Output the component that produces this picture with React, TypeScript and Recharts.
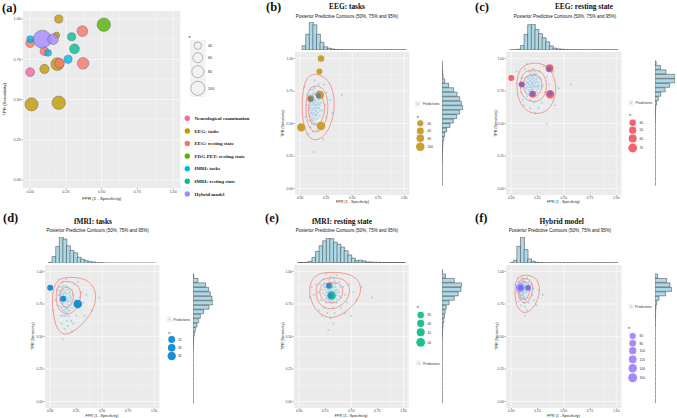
import React from 'react';
import { ScatterChart, Scatter, XAxis, YAxis, ZAxis, CartesianGrid, BarChart, Bar } from 'recharts';

type Pt = { x: number; y: number; n?: number };

// study estimates: FPR (1 - specificity), TPR (sensitivity), sample size
const neuroExam: Pt[] = [{ x: 0.0, y: 0.67, n: 40 }];
const eegTasks: Pt[] = [
  { x: 0.2, y: 1.0, n: 35 },
  { x: 0.185, y: 0.9, n: 20 },
  { x: 0.1, y: 0.69, n: 45 },
  { x: 0.19, y: 0.72, n: 85 },
  { x: 0.01, y: 0.47, n: 90 },
  { x: 0.2, y: 0.48, n: 95 },
];
const eegRest: Pt[] = [
  { x: 0.365, y: 0.925, n: 60 },
  { x: 0.0, y: 0.85, n: 40 },
  { x: 0.1, y: 0.8, n: 40 },
  { x: 0.205, y: 0.725, n: 50 },
  { x: 0.37, y: 0.725, n: 70 },
];
const fdgPet: Pt[] = [{ x: 0.515, y: 0.965, n: 95 }];
const fmriTasks: Pt[] = [
  { x: 0.0, y: 0.875, n: 25 },
  { x: 0.125, y: 0.79, n: 25 },
  { x: 0.265, y: 0.75, n: 35 },
];
const fmriRest: Pt[] = [
  { x: 0.29, y: 0.89, n: 35 },
  { x: 0.31, y: 0.815, n: 50 },
];
const hybrid: Pt[] = [
  { x: 0.085, y: 0.875, n: 170 },
  { x: 0.16, y: 0.875, n: 60 },
];

// darker points drawn over some studies in the panels
const eegTasksOver = [[0.1, 0.69], [0.175, 0.715]];
const eegRestOver = [[0.1, 0.8], [0.2, 0.73], [0.36, 0.92], [0.37, 0.73]];
const fmriRestOver = [[0.28, 0.89], [0.3, 0.815]];
const hybridOver = [[0.09, 0.875], [0.16, 0.875]];

// posterior predictive draws
const predB = [
  [0.1, 0.62], [0.12, 0.66], [0.14, 0.6], [0.16, 0.64], [0.13, 0.7], [0.11, 0.55], [0.15, 0.57], [0.18, 0.62], [0.09, 0.68], [0.17, 0.69],
  [0.12, 0.52], [0.14, 0.74], [0.08, 0.6], [0.2, 0.66], [0.16, 0.5], [0.1, 0.47], [0.13, 0.78], [0.19, 0.56], [0.07, 0.72], [0.22, 0.7],
  [0.11, 0.64], [0.15, 0.67], [0.13, 0.58], [0.17, 0.75], [0.09, 0.52], [0.21, 0.6], [0.12, 0.44], [0.18, 0.8], [0.06, 0.64], [0.24, 0.64],
  [0.14, 0.83], [0.1, 0.76], [0.25, 0.55], [0.16, 0.45], [0.2, 0.5], [0.08, 0.42], [0.26, 0.74], [0.23, 0.8], [0.05, 0.55], [0.29, 0.68],
  [0.4, 0.72], [0.13, 0.28], [0.22, 0.38], [0.18, 0.9], [0.31, 0.58], [0.04, 0.78],
  [0.12, 0.61], [0.14, 0.65], [0.16, 0.59], [0.11, 0.69], [0.15, 0.72], [0.13, 0.54], [0.1, 0.58], [0.17, 0.66], [0.12, 0.73], [0.14, 0.5],
  [0.09, 0.64], [0.18, 0.71], [0.15, 0.62], [0.11, 0.5], [0.19, 0.64], [0.13, 0.66],
  [0.09, 0.56], [0.11, 0.6], [0.13, 0.62], [0.15, 0.6], [0.17, 0.58], [0.1, 0.66], [0.12, 0.68], [0.14, 0.68], [0.16, 0.7], [0.18, 0.68],
  [0.1, 0.72], [0.12, 0.76], [0.14, 0.77], [0.16, 0.73], [0.11, 0.53], [0.13, 0.5], [0.15, 0.53], [0.17, 0.54], [0.19, 0.6], [0.09, 0.62],
  [0.12, 0.57], [0.14, 0.56], [0.16, 0.56], [0.18, 0.65], [0.13, 0.64], [0.11, 0.58], [0.15, 0.64], [0.12, 0.7], [0.1, 0.69], [0.17, 0.62],
];
const predC = [
  [0.18, 0.8], [0.2, 0.84], [0.22, 0.78], [0.16, 0.76], [0.24, 0.82], [0.19, 0.87], [0.14, 0.82], [0.21, 0.74], [0.26, 0.77], [0.17, 0.9],
  [0.23, 0.88], [0.12, 0.78], [0.28, 0.84], [0.15, 0.71], [0.25, 0.7], [0.2, 0.8], [0.1, 0.85], [0.3, 0.79], [0.18, 0.68], [0.13, 0.92],
  [0.27, 0.9], [0.22, 0.66], [0.32, 0.74], [0.09, 0.74], [0.16, 0.84], [0.24, 0.76], [0.19, 0.72], [0.21, 0.92], [0.34, 0.86], [0.11, 0.68],
  [0.29, 0.66], [0.07, 0.8], [0.36, 0.8], [0.15, 0.96], [0.26, 0.62], [0.18, 0.62], [0.38, 0.7], [0.4, 0.9], [0.12, 0.64], [0.31, 0.94],
  [0.57, 0.8], [0.34, 0.5], [0.45, 0.77], [0.05, 0.9], [0.23, 0.58], [0.42, 0.64],
  [0.19, 0.82], [0.21, 0.79], [0.17, 0.78], [0.23, 0.81], [0.2, 0.77], [0.18, 0.85], [0.22, 0.85], [0.16, 0.81], [0.24, 0.79], [0.19, 0.75],
  [0.21, 0.88], [0.15, 0.86], [0.25, 0.85], [0.17, 0.73], [0.26, 0.8], [0.14, 0.77],
  [0.14, 0.8], [0.16, 0.82], [0.18, 0.83], [0.2, 0.82], [0.22, 0.83], [0.24, 0.84], [0.26, 0.82], [0.15, 0.78], [0.17, 0.8], [0.19, 0.78],
  [0.21, 0.81], [0.23, 0.79], [0.25, 0.78], [0.27, 0.79], [0.16, 0.86], [0.18, 0.88], [0.2, 0.86], [0.22, 0.87], [0.24, 0.88], [0.19, 0.9],
  [0.17, 0.75], [0.19, 0.76], [0.21, 0.76], [0.23, 0.74], [0.25, 0.74], [0.2, 0.71], [0.14, 0.74], [0.13, 0.85], [0.27, 0.86], [0.22, 0.9],
];
const predD = [
  [0.14, 0.78], [0.12, 0.82], [0.16, 0.75], [0.1, 0.77], [0.18, 0.8], [0.13, 0.86], [0.15, 0.71], [0.2, 0.76], [0.08, 0.82], [0.17, 0.88],
  [0.11, 0.72], [0.22, 0.82], [0.14, 0.66], [0.19, 0.7], [0.09, 0.88], [0.24, 0.78], [0.12, 0.92], [0.07, 0.74], [0.21, 0.86], [0.16, 0.62],
  [0.26, 0.72], [0.13, 0.76], [0.18, 0.66], [0.1, 0.66], [0.23, 0.9], [0.06, 0.86], [0.28, 0.8], [0.15, 0.94], [0.2, 0.62], [0.11, 0.6],
  [0.3, 0.84], [0.05, 0.78], [0.25, 0.66], [0.17, 0.58], [0.32, 0.76], [0.22, 0.6], [0.27, 0.92], [0.08, 0.94], [0.35, 0.82], [0.14, 0.56],
  [0.47, 0.8], [0.12, 0.48], [0.4, 0.7], [0.21, 0.54], [0.03, 0.7], [0.33, 0.66],
  [0.13, 0.8], [0.15, 0.83], [0.11, 0.79], [0.17, 0.77], [0.14, 0.73], [0.12, 0.86], [0.16, 0.79], [0.1, 0.82], [0.18, 0.74], [0.13, 0.7],
  [0.15, 0.89], [0.19, 0.84], [0.09, 0.78], [0.2, 0.8], [0.12, 0.75], [0.16, 0.68],
  [0.11, 0.84], [0.13, 0.83], [0.15, 0.81], [0.17, 0.83], [0.19, 0.82], [0.1, 0.8], [0.12, 0.79], [0.14, 0.8], [0.16, 0.78], [0.18, 0.77],
  [0.11, 0.76], [0.13, 0.73], [0.15, 0.77], [0.17, 0.72], [0.19, 0.74], [0.12, 0.7], [0.14, 0.69], [0.16, 0.72], [0.1, 0.73], [0.14, 0.84],
  [0.16, 0.86], [0.18, 0.86], [0.11, 0.88], [0.13, 0.89], [0.2, 0.78], [0.21, 0.72], [0.09, 0.85], [0.15, 0.66], [0.12, 0.66], [0.17, 0.7],
];
const predE = [
  [0.3, 0.84], [0.27, 0.88], [0.33, 0.82], [0.25, 0.82], [0.35, 0.88], [0.29, 0.92], [0.31, 0.78], [0.22, 0.86], [0.38, 0.84], [0.26, 0.76],
  [0.34, 0.93], [0.2, 0.9], [0.4, 0.8], [0.28, 0.8], [0.36, 0.76], [0.23, 0.94], [0.32, 0.72], [0.42, 0.88], [0.18, 0.84], [0.3, 0.96],
  [0.44, 0.82], [0.24, 0.72], [0.38, 0.92], [0.16, 0.9], [0.27, 0.68], [0.46, 0.76], [0.34, 0.68], [0.21, 0.78], [0.48, 0.9], [0.14, 0.82],
  [0.4, 0.72], [0.3, 0.64], [0.52, 0.84], [0.19, 0.7], [0.36, 0.97], [0.12, 0.88], [0.44, 0.68], [0.26, 0.98], [0.55, 0.78], [0.22, 0.66],
  [0.7, 0.8], [0.28, 0.55], [0.1, 0.8], [0.6, 0.88], [0.33, 0.6], [0.5, 0.66],
  [0.29, 0.86], [0.32, 0.87], [0.27, 0.84], [0.34, 0.85], [0.31, 0.9], [0.25, 0.86], [0.36, 0.82], [0.28, 0.9], [0.33, 0.79], [0.3, 0.81],
  [0.24, 0.88], [0.37, 0.86], [0.26, 0.8], [0.35, 0.91], [0.29, 0.77], [0.39, 0.88],
  [0.26, 0.84], [0.28, 0.85], [0.3, 0.86], [0.32, 0.85], [0.34, 0.84], [0.36, 0.84], [0.27, 0.87], [0.29, 0.88], [0.31, 0.88], [0.33, 0.88],
  [0.35, 0.86], [0.25, 0.88], [0.27, 0.9], [0.3, 0.9], [0.32, 0.91], [0.34, 0.9], [0.28, 0.82], [0.3, 0.82], [0.32, 0.83], [0.34, 0.8],
  [0.36, 0.79], [0.26, 0.79], [0.28, 0.78], [0.31, 0.76], [0.33, 0.77], [0.23, 0.83], [0.38, 0.81], [0.29, 0.94], [0.33, 0.95], [0.24, 0.91],
];
const predF = [
  [0.1, 0.87], [0.12, 0.89], [0.11, 0.85], [0.09, 0.9], [0.13, 0.86], [0.08, 0.86], [0.14, 0.91], [0.1, 0.82], [0.12, 0.94], [0.15, 0.84],
  [0.07, 0.92], [0.11, 0.8], [0.16, 0.88], [0.09, 0.84], [0.13, 0.8], [0.06, 0.88], [0.17, 0.92], [0.1, 0.95], [0.14, 0.78], [0.08, 0.8],
  [0.18, 0.85], [0.12, 0.76], [0.05, 0.84], [0.16, 0.8], [0.11, 0.9], [0.19, 0.9], [0.07, 0.77], [0.15, 0.95], [0.2, 0.82], [0.13, 0.73],
  [0.09, 0.74], [0.21, 0.87], [0.04, 0.9], [0.17, 0.76], [0.22, 0.78], [0.06, 0.95],
  [0.13, 0.66], [0.3, 0.82], [0.26, 0.86], [0.24, 0.74], [0.15, 0.7],
  [0.11, 0.88], [0.12, 0.84], [0.1, 0.91], [0.13, 0.89], [0.09, 0.86], [0.14, 0.87], [0.11, 0.83], [0.12, 0.91], [0.1, 0.79], [0.15, 0.89],
  [0.09, 0.88], [0.1, 0.89], [0.11, 0.87], [0.12, 0.86], [0.13, 0.88], [0.1, 0.84], [0.11, 0.82], [0.12, 0.81], [0.13, 0.83], [0.14, 0.85],
  [0.08, 0.84], [0.09, 0.82], [0.1, 0.93], [0.11, 0.92], [0.13, 0.92], [0.14, 0.89], [0.08, 0.9], [0.15, 0.87], [0.12, 0.79], [0.09, 0.79],
];

// 50/75/95% contour outlines (control points)
const contB = [
  [[0.15, 0.89], [0.29, 0.84], [0.35, 0.64], [0.27, 0.41], [0.12, 0.35], [0.03, 0.45], [0.01, 0.68], [0.05, 0.86]],
  [[0.15, 0.8], [0.25, 0.76], [0.28, 0.6], [0.22, 0.45], [0.13, 0.42], [0.06, 0.5], [0.05, 0.66], [0.08, 0.77]],
  [[0.16, 0.73], [0.23, 0.69], [0.24, 0.58], [0.19, 0.49], [0.12, 0.48], [0.08, 0.55], [0.08, 0.66], [0.11, 0.72]],
];
const contC = [
  [[0.18, 0.97], [0.36, 0.96], [0.45, 0.78], [0.38, 0.6], [0.22, 0.56], [0.08, 0.63], [0.04, 0.8], [0.08, 0.93]],
  [[0.19, 0.92], [0.31, 0.9], [0.35, 0.78], [0.3, 0.68], [0.2, 0.66], [0.1, 0.7], [0.08, 0.81], [0.11, 0.89]],
  [[0.2, 0.88], [0.28, 0.86], [0.3, 0.79], [0.27, 0.72], [0.2, 0.7], [0.13, 0.73], [0.11, 0.8], [0.13, 0.86]],
];
const contD = [
  [[0.15, 0.96], [0.38, 0.95], [0.47, 0.8], [0.36, 0.62], [0.14, 0.48], [0.04, 0.58], [0.01, 0.8], [0.05, 0.93]],
  [[0.15, 0.93], [0.27, 0.91], [0.31, 0.8], [0.24, 0.69], [0.15, 0.66], [0.07, 0.71], [0.05, 0.82], [0.08, 0.91]],
  [[0.15, 0.88], [0.21, 0.87], [0.23, 0.8], [0.2, 0.73], [0.15, 0.72], [0.1, 0.75], [0.09, 0.81], [0.1, 0.87]],
];
const contE = [
  [[0.3, 1.0], [0.55, 0.98], [0.62, 0.84], [0.48, 0.7], [0.3, 0.62], [0.14, 0.7], [0.08, 0.86], [0.14, 0.98]],
  [[0.31, 0.96], [0.46, 0.94], [0.5, 0.83], [0.42, 0.74], [0.3, 0.7], [0.19, 0.74], [0.15, 0.84], [0.18, 0.93]],
  [[0.3, 0.92], [0.4, 0.91], [0.43, 0.84], [0.38, 0.77], [0.3, 0.75], [0.22, 0.78], [0.19, 0.84], [0.21, 0.9]],
];
const contF = [
  [[0.14, 0.98], [0.26, 0.95], [0.28, 0.82], [0.2, 0.7], [0.11, 0.67], [0.04, 0.74], [0.03, 0.88], [0.06, 0.96]],
  [[0.13, 0.95], [0.2, 0.93], [0.21, 0.85], [0.17, 0.77], [0.12, 0.75], [0.07, 0.79], [0.06, 0.87], [0.08, 0.94]],
  [[0.12, 0.93], [0.17, 0.91], [0.18, 0.85], [0.15, 0.79], [0.11, 0.78], [0.08, 0.81], [0.07, 0.87], [0.09, 0.92]],
];

// marginal histogram bins (bin centres) and counts
const BIN_MIDS = [
  -0.033, 0.002, 0.036, 0.07, 0.105, 0.139, 0.174, 0.208, 0.242, 0.277,
  0.311, 0.345, 0.38, 0.414, 0.449, 0.483, 0.517, 0.552, 0.586, 0.62,
  0.655, 0.689, 0.723, 0.758, 0.792, 0.827, 0.861, 0.895, 0.93, 0.964,
  0.998, 1.033,
];
const fprB = [0, 0, 12, 45, 80, 72, 45, 22, 9, 5, 3, 1.5, 1, 0.8, 0.5, 0.5, 0.4, 0.4, 0.4, 0.4, 0.4, 0.4, 0.4, 0.4, 0.4, 0.4, 0.4, 0.4, 0.4, 0.4, 0.4, 0];
const tprB = [0, 0, 0.3, 0.3, 0.5, 0.5, 0.5, 1, 1, 1.5, 2, 3, 5, 8, 14, 24, 34, 44, 53, 63, 58, 53, 45, 35, 20, 8, 3, 2, 1, 0.3, 0, 0];
const fprC = [0, 0.3, 0.4, 2, 12, 42, 68, 70, 55, 44, 33, 22, 11, 5, 3, 2, 1, 0.8, 0.6, 0.5, 0.5, 0.4, 0.4, 0.4, 0.4, 0.4, 0.4, 0.4, 0.4, 0.4, 0.4, 0];
const tprC = [0, 0, 0.3, 0.3, 0.3, 0.3, 0.3, 0.3, 0.3, 0.3, 0.3, 0.3, 0.4, 0.5, 0.5, 0.6, 0.8, 1, 1.5, 2, 4, 9, 16, 28, 40, 55, 55, 30, 15, 3, 0, 0];
const fprD = [0, 3, 20, 50, 78, 72, 52, 38, 31, 18, 12, 8, 5, 4, 2, 2, 1, 0.8, 0.6, 0.5, 0.5, 0.5, 0.5, 0.5, 0.5, 0.5, 0.5, 0.5, 0.5, 0.5, 0.5, 0];
const tprD = [0, 0.3, 0.3, 0.3, 0.3, 0.3, 0.3, 0.3, 0.3, 0.3, 0.3, 0.3, 0.3, 1, 1.5, 2, 4, 7, 12, 17, 22, 32, 48, 60, 57, 52, 47, 38, 15, 2, 0, 0];
const fprE = [0, 0.4, 0.5, 1, 4, 15, 32, 48, 62, 70, 68, 58, 52, 44, 34, 22, 13, 6, 7, 5, 2, 2, 1, 1, 0.5, 0.5, 0.5, 0.5, 0.5, 0.5, 0.5, 0];
const tprE = [0, 0.3, 0.3, 0.3, 0.3, 0.3, 0.3, 0.3, 0.3, 0.3, 0.3, 0.3, 0.3, 0.3, 0.3, 1, 1.5, 2, 3, 5, 7, 9, 12, 20, 35, 46, 54, 55, 35, 10, 1, 0];
const fprF = [0, 0.5, 8, 50, 78, 40, 12, 5, 2, 1, 0.6, 0.5, 0.4, 0.4, 0.4, 0.4, 0.4, 0.4, 0.4, 0.4, 0.4, 0.4, 0.4, 0.4, 0.4, 0.4, 0.4, 0.4, 0.4, 0.4, 0.4, 0];
const tprF = [0, 0.3, 0.3, 0.3, 0.3, 0.3, 0.3, 0.3, 0.3, 0.3, 0.3, 0.3, 0.3, 0.3, 0.3, 0.3, 0.3, 0.3, 1, 1, 1.5, 2, 3, 5, 12, 32, 50, 45, 35, 8, 0, 0];

const TICKS = [0, 0.25, 0.5, 0.75, 1];
const MINOR = [0.125, 0.375, 0.625, 0.875];
const SANS = 'Liberation Sans, Arial, sans-serif';
const SERIF = 'Liberation Serif, Times New Roman, serif';
const PRED_FILL = '#A3D4E8';
const CONTOUR = '#F8766D';

const toPts = (a: number[][]) => a.map(([x, y]) => ({ x, y }));

type Box = { x0: number; x1: number; y0: number; y1: number };

const Frame = ({ box, yw, xh, fs, children }: { box: Box; yw: number; xh: number; fs: number; children: React.ReactNode }) => {
  const tick = { fontSize: fs, fill: '#4D4D4D', fontFamily: SANS };
  return (
    <div style={{ position: 'absolute', left: box.x0 - yw, top: box.y0 - 1 }}>
      <ScatterChart
        width={box.x1 - box.x0 + yw + 1}
        height={box.y1 - box.y0 + xh + 1}
        margin={{ top: 1, right: 1, bottom: 0, left: 0 }}
      >
        <CartesianGrid fill="#EBEBEB" stroke="#FFFFFF" strokeWidth={0.6} horizontalValues={TICKS} verticalValues={TICKS} />
        <CartesianGrid stroke="#FFFFFF" strokeWidth={0.3} horizontalValues={MINOR} verticalValues={MINOR} />
        <XAxis
          type="number"
          dataKey="x"
          domain={[-0.05, 1.05]}
          ticks={TICKS}
          tickFormatter={(v: number) => v.toFixed(2)}
          height={xh}
          axisLine={false}
          tickSize={1.5}
          tickMargin={0.5}
          tickLine={{ stroke: '#333', strokeWidth: 0.4 }}
          tick={tick}
        />
        <YAxis
          type="number"
          dataKey="y"
          domain={[-0.05, 1.05]}
          ticks={TICKS}
          tickFormatter={(v: number) => v.toFixed(2)}
          width={yw}
          axisLine={false}
          tickSize={1.5}
          tickMargin={0.5}
          tickLine={{ stroke: '#333', strokeWidth: 0.4 }}
          tick={tick}
        />
        {children}
      </ScatterChart>
    </div>
  );
};

const TopHist = ({ x0, x1, top, base, values }: { x0: number; x1: number; top: number; base: number; values: number[] }) => {
  const data = BIN_MIDS.map((b, i) => ({ bin: b, v: values[i] }));
  return (
    <div style={{ position: 'absolute', left: x0, top }}>
      <BarChart width={x1 - x0} height={base - top} data={data} margin={{ top: 0, right: 0, bottom: 0, left: 0 }} barCategoryGap={0} barGap={0}>
        <XAxis dataKey="bin" hide />
        <YAxis hide domain={[0, 'dataMax']} />
        <Bar dataKey="v" fill="#ADD8E6" stroke="#3A3A3A" strokeWidth={0.5} isAnimationActive={false} />
      </BarChart>
    </div>
  );
};

const RightHist = ({ base, peak, y0, y1, values }: { base: number; peak: number; y0: number; y1: number; values: number[] }) => {
  const data = BIN_MIDS.map((b, i) => ({ bin: b, v: values[i] }));
  return (
    <div style={{ position: 'absolute', left: base, top: y0 }}>
      <BarChart layout="vertical" width={peak - base} height={y1 - y0} data={data} margin={{ top: 0, right: 0, bottom: 0, left: 0 }} barCategoryGap={0} barGap={0}>
        <XAxis type="number" hide domain={[0, 'dataMax']} />
        <YAxis type="category" dataKey="bin" hide reversed />
        <Bar dataKey="v" fill="#ADD8E6" stroke="#3A3A3A" strokeWidth={0.5} isAnimationActive={false} />
      </BarChart>
    </div>
  );
};

const noShape = () => <g />;
const predShape = (props: any) => <circle cx={props.cx} cy={props.cy} r={1.05} fill={PRED_FILL} fillOpacity={0.9} />;
const overShape = (props: any) => <circle cx={props.cx} cy={props.cy} r={2.6} fill="#4F67E0" fillOpacity={0.65} />;

type Panel = {
  label: string; lx: number; ly: number;
  title: string; tx: number; ty: number; sx: number; sy: number;
  box: Box; histTop: number; histBase: number; rBase: number; rPeak: number;
  ytx: number; xty: number;
  color: string; pts: Pt[]; over: number[][]; preds: number[][]; conts: number[][][];
  fpr: number[]; tpr: number[]; zDomain: number[];
  legend: { px: number; py: number; ptx: number; nx: number; ny: number; cx: number; cys: number[]; lx: number; vals: number[]; rs: number[] };
};

const PANELS: Panel[] = [
  {
    label: '(b)', lx: 266, ly: 11, title: 'EEG: tasks', tx: 347, ty: 9.3, sx: 347, sy: 18.3,
    box: { x0: 295.3, x1: 409.7, y0: 51.8, y1: 194.8 }, histTop: 22.3, histBase: 50.3, rBase: 442, rPeak: 463,
    ytx: 284.5, xty: 203, color: '#C9A02C', pts: eegTasks, over: eegTasksOver, preds: predB, conts: contB,
    fpr: fprB, tpr: tprB, zDomain: [40, 100],
    legend: { px: 415, py: 104, ptx: 422.7, nx: 416.7, ny: 117.5, cx: 420.3, cys: [123.3, 131, 138.3, 146.7], lx: 427.5, vals: [40, 60, 80, 100], rs: [3.0, 3.4, 3.8, 4.3] },
  },
  {
    label: '(c)', lx: 475, ly: 11, title: 'EEG: resting state', tx: 584, ty: 9.3, sx: 565, sy: 18.3,
    box: { x0: 505.7, x1: 621.2, y0: 51.8, y1: 194.8 }, histTop: 24.3, histBase: 50.3, rBase: 655, rPeak: 675,
    ytx: 497.5, xty: 203, color: '#F4636E', pts: eegRest, over: eegRestOver, preds: predC, conts: contC,
    fpr: fprC, tpr: tprC, zDomain: [40, 70],
    legend: { px: 628.5, py: 102.7, ptx: 635.5, nx: 629, ny: 115.5, cx: 632.7, cys: [122.7, 130.2, 138.5, 148], lx: 639.5, vals: [40, 50, 60, 70], rs: [3.2, 3.6, 4.0, 4.4] },
  },
  {
    label: '(d)', lx: 3, ly: 221.5, title: 'fMRI: tasks', tx: 93, ty: 224, sx: 97.7, sy: 231.7,
    box: { x0: 44.8, x1: 159.2, y0: 264.5, y1: 407.5 }, histTop: 236.7, histBase: 263, rBase: 193.3, rPeak: 213.3,
    ytx: 33.5, xty: 416.5, color: '#1B8FD2', pts: fmriTasks, over: [], preds: predD, conts: contD,
    fpr: fprD, tpr: tprD, zDomain: [25, 35],
    legend: { px: 166.5, py: 319.3, ptx: 173.3, nx: 168.3, ny: 333.5, cx: 171.7, cys: [339.5, 347.7, 356], lx: 178, vals: [25, 30, 35], rs: [3.4, 3.8, 4.2] },
  },
  {
    label: '(e)', lx: 265, ly: 221.5, title: 'fMRI: resting state', tx: 342, ty: 224, sx: 347, sy: 231.7,
    box: { x0: 293.8, x1: 408.5, y0: 264.5, y1: 407.5 }, histTop: 238.3, histBase: 263, rBase: 442.3, rPeak: 461.7,
    ytx: 283.5, xty: 416.5, color: '#1FC190', pts: fmriRest, over: fmriRestOver, preds: predE, conts: contE,
    fpr: fprE, tpr: tprE, zDomain: [35, 50],
    legend: { px: 416, py: 363.3, ptx: 423, nx: 416.7, ny: 307.5, cx: 420.7, cys: [315, 323.3, 332.3, 342.3], lx: 427.5, vals: [35, 40, 45, 50], rs: [3.2, 3.6, 4.0, 4.4] },
  },
  {
    label: '(f)', lx: 475, ly: 221.5, title: 'Hybrid model', tx: 561.7, ty: 224, sx: 560, sy: 231.7,
    box: { x0: 505.75, x1: 621.25, y0: 264.5, y1: 407.5 }, histTop: 236.7, histBase: 262.7, rBase: 655, rPeak: 671.7,
    ytx: 497.5, xty: 416.5, color: '#A58AFF', pts: hybrid, over: hybridOver, preds: predF, conts: contF,
    fpr: fprF, tpr: tprF, zDomain: [60, 170],
    legend: { px: 628.5, py: 306.7, ptx: 635, nx: 628, ny: 328.5, cx: 632.7, cys: [336, 343.3, 350.7, 359.3, 368.3, 377.7], lx: 639.5, vals: [60, 80, 100, 120, 140, 160], rs: [3.0, 3.3, 3.6, 3.9, 4.2, 4.5] },
  },
];

const GROUPS_A: { name: string; color: string; pts: Pt[] }[] = [
  { name: 'EEG: tasks', color: '#C49A00', pts: eegTasks },
  { name: 'EEG: resting state', color: '#F8766D', pts: eegRest },
  { name: 'FDG-PET: resting state', color: '#53B400', pts: fdgPet },
  { name: 'fMRI: resting state', color: '#00C094', pts: fmriRest },
  { name: 'Hybrid model', color: '#A58AFF', pts: hybrid },
  { name: 'fMRI: tasks', color: '#00B6EB', pts: fmriTasks },
  { name: 'Neurological examination', color: '#F766A6', pts: neuroExam },
];
const LEGEND_A = ['Neurological examination', 'EEG: tasks', 'EEG: resting state', 'FDG-PET: resting state', 'fMRI: tasks', 'fMRI: resting state', 'Hybrid model'];
const SIZE_A = [40, 60, 80, 100];

const BOX_A: Box = { x0: 23.15, x1: 180.45, y0: 10.95, y1: 188.05 };

const PanelCharts = ({ p }: { p: Panel }) => (
  <>
    <TopHist x0={p.box.x0} x1={p.box.x1} top={p.histTop} base={p.histBase} values={p.fpr} />
    <RightHist base={p.rBase} peak={p.rPeak} y0={p.box.y0} y1={p.box.y1} values={p.tpr} />
    <Frame box={p.box} yw={12} xh={7} fs={3.4}>
      <ZAxis type="number" dataKey="n" zAxisId="n" domain={p.zDomain} range={[28, 58]} />
      <Scatter data={toPts(p.preds)} shape={predShape} isAnimationActive={false} />
      {p.conts.map((c, i) => (
        <Scatter
          key={i}
          data={toPts(c)}
          shape={noShape}
          line={{ stroke: CONTOUR, strokeWidth: 0.7 }}
          lineJointType="basisClosed"
          isAnimationActive={false}
        />
      ))}
      <Scatter data={p.pts} zAxisId="n" fill={p.color} isAnimationActive={false} />
      <Scatter data={toPts(p.over)} shape={overShape} isAnimationActive={false} />
    </Frame>
  </>
);

const Overlay = () => (
  <svg width={677} height={418} style={{ position: 'absolute', left: 0, top: 0, pointerEvents: 'none' }}>
    {/* panel (a) */}
    <text x={2} y={11.5} fontFamily={SERIF} fontWeight="bold" fontSize={12.5} fill="#111">(a)</text>
    <text x={5.8} y={99.5} fontFamily={SANS} fontSize={4.4} fill="#222" textAnchor="middle" transform="rotate(-90 5.8 99.5)">TPR (Sensitivity)</text>
    <text x={101.8} y={200.2} fontFamily={SANS} fontSize={4.4} fill="#222" textAnchor="middle">FPR (1 - Specificity)</text>
    <text x={188.5} y={37.5} fontFamily={SANS} fontSize={4.2} fill="#222">n</text>
    <rect x={190} y={40} width={15.7} height={57} fill="#F2F2F2" />
    {SIZE_A.map((v, i) => (
      <g key={v}>
        <circle cx={197.8} cy={[45.7, 57.7, 71.7, 88.3][i]} r={[3.7, 5, 6, 7][i]} fill="none" stroke="#555" strokeWidth={0.4} />
        <text x={208} y={[45.7, 57.7, 71.7, 88.3][i] + 1.3} fontFamily={SANS} fontSize={3.8} fill="#333">{v}</text>
      </g>
    ))}
    {LEGEND_A.map((name, i) => {
      const g = GROUPS_A.find((d) => d.name === name)!;
      const y = 118.3 + i * 12.6;
      return (
        <g key={name}>
          <circle cx={187.3} cy={y} r={2.7} fill={g.color} />
          <text x={194.5} y={y + 1.7} fontFamily={SERIF} fontWeight="bold" fontSize={5} fill="#1a1a1a">{name}</text>
        </g>
      );
    })}
    {/* panels (b)-(f) */}
    {PANELS.map((p) => {
      const cy = (p.box.y0 + p.box.y1) / 2;
      const cx = (p.box.x0 + p.box.x1) / 2;
      const L = p.legend;
      return (
        <g key={p.label}>
          <text x={p.lx} y={p.ly} fontFamily={SERIF} fontWeight="bold" fontSize={12.5} fill="#111">{p.label}</text>
          <text x={p.tx} y={p.ty} fontFamily={SERIF} fontWeight="bold" fontSize={7.4} fill="#111" textAnchor="middle">{p.title}</text>
          <text x={p.sx} y={p.sy} fontFamily={SANS} fontSize={4.5} fill="#111" textAnchor="middle">Posterior Predictive Contours (50%, 75% and 95%)</text>
          <text x={p.ytx} y={cy} fontFamily={SANS} fontSize={3.7} fill="#222" textAnchor="middle" transform={`rotate(-90 ${p.ytx} ${cy})`}>TPR (Sensitivity)</text>
          <text x={cx} y={p.xty} fontFamily={SANS} fontSize={3.7} fill="#222" textAnchor="middle">FPR (1 - Specificity)</text>
          <rect x={L.px} y={L.py - 2.8} width={5.6} height={5.6} fill="#F2F2F2" />
          <circle cx={L.px + 2.8} cy={L.py} r={0.9} fill={PRED_FILL} />
          <text x={L.ptx} y={L.py + 1.2} fontFamily={SANS} fontSize={3.4} fill="#333">Predictions</text>
          <text x={L.nx} y={L.ny} fontFamily={SANS} fontSize={3.8} fill="#222">n</text>
          {L.vals.map((v, i) => (
            <g key={v}>
              <rect x={L.cx - 3.6} y={L.cys[i] - 3.8} width={7.2} height={7.6} fill="#F2F2F2" />
              <circle cx={L.cx} cy={L.cys[i]} r={L.rs[i]} fill={p.color} />
              <text x={L.lx} y={L.cys[i] + 1.2} fontFamily={SANS} fontSize={3.3} fill="#333">{v}</text>
            </g>
          ))}
        </g>
      );
    })}
  </svg>
);

export default function App() {
  return (
    <div style={{ position: 'absolute', left: 0, top: 0, width: 677, height: 418, background: '#FFFFFF', overflow: 'hidden', fontFamily: SANS }}>
      <Frame box={BOX_A} yw={16} xh={8} fs={3.8}>
        <ZAxis type="number" dataKey="n" zAxisId="n" domain={[0, 170]} range={[0, 255]} />
        {GROUPS_A.map((g) => (
          <Scatter
            key={g.name}
            name={g.name}
            data={g.pts}
            zAxisId="n"
            fill={g.color}
            fillOpacity={0.8}
            stroke="#555"
            strokeWidth={0.4}
            isAnimationActive={false}
          />
        ))}
      </Frame>
      {PANELS.map((p) => (
        <PanelCharts key={p.label} p={p} />
      ))}
      <Overlay />
    </div>
  );
}
